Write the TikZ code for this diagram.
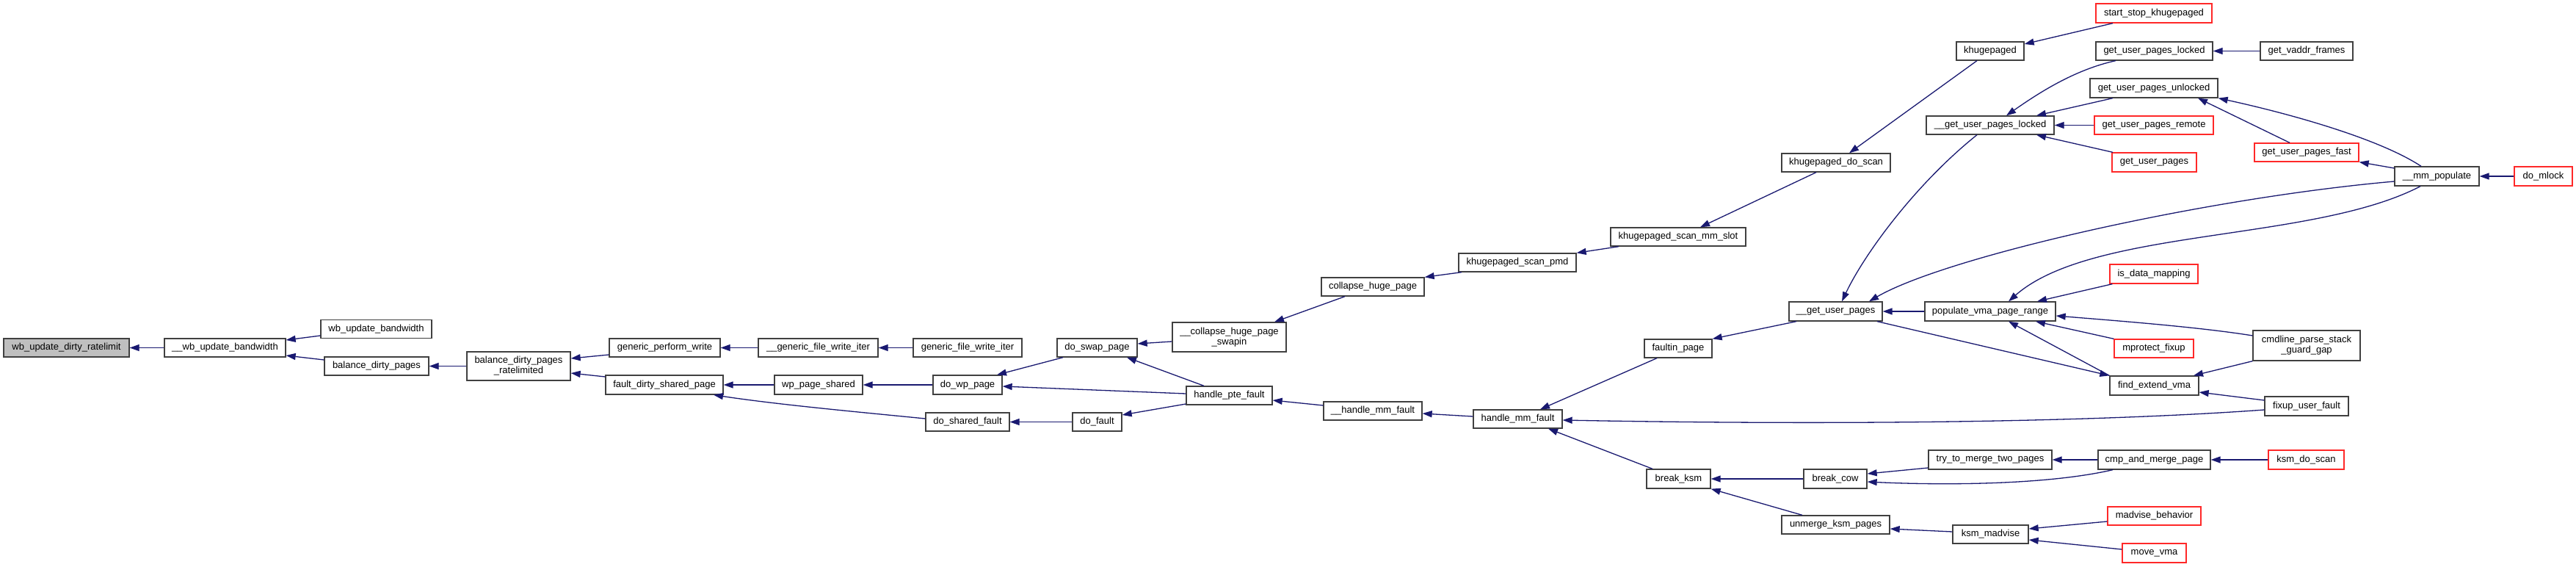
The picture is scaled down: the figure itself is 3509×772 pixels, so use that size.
\documentclass[tikz,border=0pt]{standalone}
\usepackage{fontspec}
\setmainfont{Liberation Sans}
\usetikzlibrary{arrows.meta}
\definecolor{boxgray}{RGB}{64,64,64}
\definecolor{boxred}{RGB}{255,40,40}
\definecolor{rootgray}{RGB}{191,191,191}
\definecolor{edgeblue}{RGB}{25,25,112}
\tikzset{
  box/.style={draw=boxgray, line width=1.3bp, fill=white, inner sep=0pt, minimum height=25bp,
    font=\fontsize{13bp}{14bp}\selectfont, align=center, text=black},
  redbox/.style={box, draw=boxred},
  rootbox/.style={box, fill=rootgray},
  cl/.style={draw=edgeblue, line width=1.3bp, {Triangle[length=13bp,width=9bp]}-}
}
\begin{document}
\begin{tikzpicture}[x=1bp,y=-1bp]
\useasboundingbox (0,0) rectangle (3509,772);
% nodes
\node[rootbox, minimum width=171bp] (wbudr) at (90.5,473.5) {wb\_update\_dirty\_ratelimit};
\node[box, minimum width=165bp] (wbub) at (306.5,473.5) {\_\_wb\_update\_bandwidth};
\node[box, minimum width=151bp] (wbu) at (512.5,448) {wb\_update\_bandwidth};
\node[box, minimum width=142bp] (bdp) at (513,498.5) {balance\_dirty\_pages};
\node[box, minimum width=141bp, minimum height=39bp] (bdpr) at (706.5,498.5) {balance\_dirty\_pages\\\_ratelimited};
\node[box, minimum width=151bp] (gpw) at (905.5,473.5) {generic\_perform\_write};
\node[box, minimum width=163bp] (gfwiA) at (1114.5,473.5) {\_\_generic\_file\_write\_iter};
\node[box, minimum width=148bp] (gfwi) at (1318,473.5) {generic\_file\_write\_iter};
\node[box, minimum width=160bp, minimum height=26bp] (fdsp) at (905,524) {fault\_dirty\_shared\_page};
\node[box, minimum width=120bp, minimum height=26bp] (wps) at (1115,524) {wp\_page\_shared};
\node[box, minimum width=94bp, minimum height=26bp] (dwp) at (1318,524) {do\_wp\_page};
\node[box, minimum width=114bp] (dsf) at (1318,574.5) {do\_shared\_fault};
\node[box, minimum width=67bp] (df) at (1494.5,574.5) {do\_fault};
\node[box, minimum width=109bp] (dsp) at (1494.5,473.5) {do\_swap\_page};
\node[box, minimum width=155bp, minimum height=40bp] (chps) at (1674.5,459) {\_\_collapse\_huge\_page\\\_swapin};
\node[box, minimum width=117bp] (hpf) at (1674.5,538.5) {handle\_pte\_fault};
\node[box, minimum width=140bp] (chp) at (1870,390.5) {collapse\_huge\_page};
\node[box, minimum width=134bp] (hmfA) at (1870,559.5) {\_\_handle\_mm\_fault};
\node[box, minimum width=121bp] (hmf) at (2067.5,570.5) {handle\_mm\_fault};
\node[box, minimum width=160bp] (ksp) at (2067,357.5) {khugepaged\_scan\_pmd};
\node[box, minimum width=184bp] (ksms) at (2286,322.5) {khugepaged\_scan\_mm\_slot};
\node[box, minimum width=148bp] (kds) at (2501,221.5) {khugepaged\_do\_scan};
\node[box, minimum width=92bp] (kh) at (2711,69.5) {khugepaged};
\node[redbox, minimum width=158bp, minimum height=26bp] (ssk) at (2934,18) {start\_stop\_khugepaged};
\node[box, minimum width=92bp] (fp) at (2286,474.5) {faultin\_page};
\node[box, minimum width=87bp, minimum height=26bp] (bk) at (2286.5,652) {break\_ksm};
\node[box, minimum width=127bp, minimum height=26bp] (gupA) at (2500.5,424) {\_\_get\_user\_pages};
\node[box, minimum width=174bp] (guplA) at (2711,170.5) {\_\_get\_user\_pages\_locked};
\node[box, minimum width=159bp] (gupl) at (2934.5,69.5) {get\_user\_pages\_locked};
\node[box, minimum width=126bp] (gvf) at (3142,69.5) {get\_vaddr\_frames};
\node[box, minimum width=174bp, minimum height=26bp] (gupu) at (2934,120) {get\_user\_pages\_unlocked};
\node[redbox, minimum width=162bp] (gupr) at (2934,170.5) {get\_user\_pages\_remote};
\node[redbox, minimum width=115bp, minimum height=26bp] (gup) at (2934.5,221) {get\_user\_pages};
\node[redbox, minimum width=142bp] (gupf) at (3142,207.5) {get\_user\_pages\_fast};
\node[box, minimum width=115bp, minimum height=26bp] (mmp) at (3319.5,240) {\_\_mm\_populate};
\node[redbox, minimum width=79bp, minimum height=26bp] (dml) at (3464.5,240) {do\_mlock};
\node[box, minimum width=178bp, minimum height=26bp] (pvpr) at (2711,424) {populate\_vma\_page\_range};
\node[redbox, minimum width=120bp, minimum height=26bp] (idm) at (2934,373) {is\_data\_mapping};
\node[box, minimum width=146bp, minimum height=41bp] (cpsgg) at (3142,470.5) {cmdline\_parse\_stack\\\_guard\_gap};
\node[redbox, minimum width=108bp] (mpf) at (2934,474.5) {mprotect\_fixup};
\node[box, minimum width=121bp, minimum height=26bp] (fev) at (2934.5,525) {find\_extend\_vma};
\node[box, minimum width=114bp, minimum height=26bp] (fuf) at (3142,553) {fixup\_user\_fault};
\node[box, minimum width=86bp, minimum height=26bp] (bc) at (2500,652) {break\_cow};
\node[box, minimum width=168bp, minimum height=26bp] (ttmtp) at (2711,626) {try\_to\_merge\_two\_pages};
\node[box, minimum width=153bp, minimum height=26bp] (camp) at (2934.5,626) {cmp\_and\_merge\_page};
\node[redbox, minimum width=103bp, minimum height=26bp] (kdsc) at (3141.5,626) {ksm\_do\_scan};
\node[box, minimum width=147bp] (ukp) at (2500.5,714.5) {unmerge\_ksm\_pages};
\node[box, minimum width=103bp] (kmad) at (2711.5,727.5) {ksm\_madvise};
\node[redbox, minimum width=127bp] (mb) at (2934.5,702.5) {madvise\_behavior};
\node[redbox, minimum width=87bp, minimum height=26bp] (mv) at (2934.5,753) {move\_vma};
% edges
\draw[cl] (wbudr.east) -- (wbub.west);
\draw[cl] (wbub.east |- 0,463) -- (wbu.west |- 0,457);
\draw[cl] (wbub.east |- 0,484) -- (bdp.west |- 0,490);
\draw[cl] (bdp.east) -- (bdpr.west |- 0,498.5);
\draw[cl] (bdpr.east |- 0,488) -- (gpw.west |- 0,483);
\draw[cl] (bdpr.east |- 0,508) -- (fdsp.west |- 0,513);
\draw[cl] (gpw.east) -- (gfwiA.west);
\draw[cl] (gfwiA.east) -- (gfwi.west);
\draw[cl] (fdsp.east) -- (wps.west);
\draw[cl] (fdsp.south -| 972,0) .. controls (1060,551) and (1170,561) .. (dsf.west |- 0,570);
\draw[cl] (wps.east) -- (dwp.west);
\draw[cl] (dwp.north -| 1358,0) -- (dsp.south -| 1448,0);
\draw[cl] (dwp.east |- 0,526) -- (hpf.west |- 0,536);
\draw[cl] (dsp.south -| 1535,0) -- (hpf.north -| 1640,0);
\draw[cl] (dsp.east |- 0,468) -- (chps.west |- 0,465);
\draw[cl] (chps.north -| 1736,0) -- (chp.south -| 1832,0);
\draw[cl] (chp.north east) -- (ksp.south -| 1991,0);
\draw[cl] (ksp.north east) -- (ksms.south -| 2205,0);
\draw[cl] (ksms.north -| 2316,0) -- (kds.south -| 2474,0);
\draw[cl] (kds.north -| 2519,0) -- (kh.south -| 2693,0);
\draw[cl] (kh.east |- 0,60) -- (ssk.south -| 2878,0);
\draw[cl] (dsf.east) -- (df.west);
\draw[cl] (df.east |- 0,565) -- (hpf.west |- 0,550);
\draw[cl] (hpf.east |- 0,545) -- (hmfA.west |- 0,552);
\draw[cl] (hmfA.east |- 0,563) -- (hmf.west |- 0,567);
\draw[cl] (hmf.north -| 2098,0) -- (fp.south -| 2257,0);
\draw[cl] (hmf.east |- 0,572) .. controls (2500,579) and (2850,575) .. (fuf.west |- 0,558);
\draw[cl] (hmf.south -| 2109,0) -- (bk.north -| 2251,0);
\draw[cl] (fp.north east) -- (gupA.south -| 2447,0);
\draw[cl] (gupA.north -| 2509,0) .. controls (2540,345) and (2610,250) .. (guplA.south -| 2693,0);
\draw[cl] (gupA.north -| 2546,0) .. controls (2650,350) and (3000,270) .. (mmp.west |- 0,247);
\draw[cl] (gupA.east) -- (pvpr.west);
\draw[cl] (fev.north west) -- (gupA.south -| 2557,0);
\draw[cl] (pvpr.south -| 2736,0) -- (fev.north west);
\draw[cl] (pvpr.north -| 2736,0) .. controls (2850,310) and (3150,330) .. (mmp.south -| 3297,0);
\draw[cl] (pvpr.north -| 2775,0) -- ([xshift=4bp]idm.south west);
\draw[cl] (pvpr.east |- 0,430) .. controls (2900,438) and (3000,446) .. (cpsgg.west |- 0,457);
\draw[cl] (pvpr.south -| 2773,0) -- (mpf.north west);
\draw[cl] (fev.north -| 2988,0) -- (cpsgg.south west);
\draw[cl] (fev.east |- 0,534) -- (fuf.west |- 0,545);
\draw[cl] (guplA.north -| 2733,0) .. controls (2775,128) and (2825,95) .. (gupl.south -| 2882,0);
\draw[cl] (guplA.north -| 2774,0) -- (gupu.south -| 2878,0);
\draw[cl] (guplA.east) -- (gupr.west);
\draw[cl] (guplA.south -| 2774,0) -- (gup.north -| 2878,0);
\draw[cl] (gupl.east) -- (gvf.west);
\draw[cl] (gupu.south -| 2994,0) -- (gupf.north -| 3119,0);
\draw[cl] (gupu.south east) .. controls (3111,153) and (3238,187) .. (mmp.north -| 3298,0);
\draw[cl] (gupf.south east) -- (mmp.west |- 0,229);
\draw[cl] (mmp.east) -- (dml.west);
\draw[cl] (bk.east) -- (bc.west);
\draw[cl] (bk.south east) -- (ukp.north -| 2455,0);
\draw[cl] (bc.east |- 0,645) -- (ttmtp.west |- 0,637);
\draw[cl] (bc.east |- 0,656) .. controls (2650,661) and (2790,660) .. (camp.south -| 2878,0);
\draw[cl] (ttmtp.east) -- (camp.west);
\draw[cl] (camp.east) -- (kdsc.west);
\draw[cl] (ukp.east |- 0,720) -- (kmad.west |- 0,724);
\draw[cl] (kmad.east |- 0,720) -- (mb.west |- 0,710);
\draw[cl] (kmad.east |- 0,735) -- (mv.west |- 0,748);
\end{tikzpicture}
\end{document}
